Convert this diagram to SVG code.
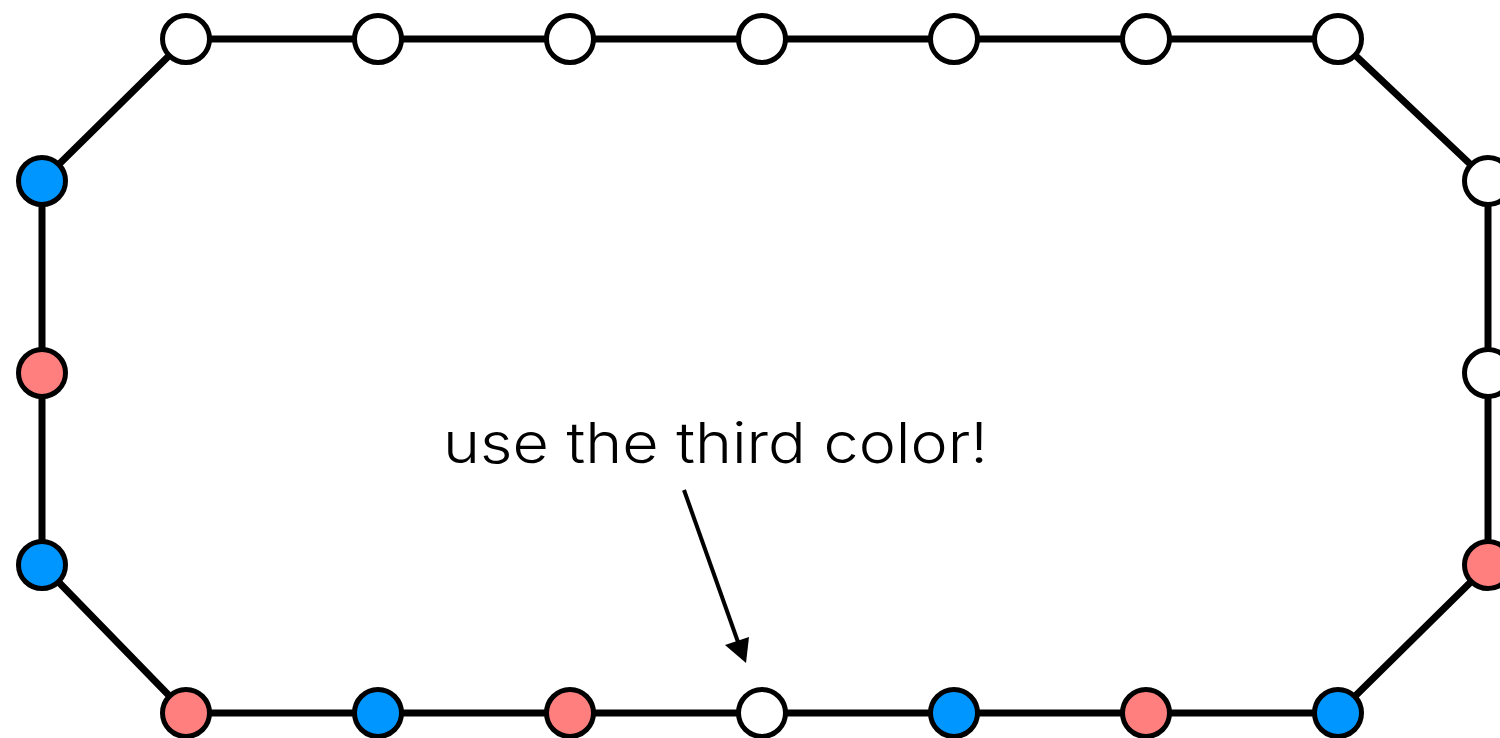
<svg xmlns="http://www.w3.org/2000/svg" width="1500" height="738" viewBox="0 0 1500 738">
<style>
.edge{fill:none;stroke:#000;stroke-width:7;stroke-linejoin:miter}
.n{stroke:#000;stroke-width:5}
.w{fill:#fff}.b{fill:#0096ff}.r{fill:#ff7f7f}
.lbl{font-family:Inter,Lato,"Liberation Sans",sans-serif;font-size:56px;font-weight:350;fill:#000}
</style>
<rect width="1500" height="738" fill="#fff"/>
<g id="connectors">
<polygon class="edge" points="186,39 1338,39 1488,181 1488,565 1338,713 186,713 42,565 42,181"/>
<g id="arrow">
<line x1="684" y1="490" x2="738" y2="642" stroke="#000" stroke-width="4"/>
<polygon points="746,663 725,645 749,637" fill="#000"/>
</g>
</g>
<g id="t1"><circle class="n w" cx="186" cy="39" r="23.5"/></g>
<g id="t2"><circle class="n w" cx="378" cy="39" r="23.5"/></g>
<g id="t3"><circle class="n w" cx="570" cy="39" r="23.5"/></g>
<g id="t4"><circle class="n w" cx="762" cy="39" r="23.5"/></g>
<g id="t5"><circle class="n w" cx="954" cy="39" r="23.5"/></g>
<g id="t6"><circle class="n w" cx="1146" cy="39" r="23.5"/></g>
<g id="t7"><circle class="n w" cx="1338" cy="39" r="23.5"/></g>
<g id="r1"><circle class="n w" cx="1488" cy="181" r="23.5"/></g>
<g id="r2"><circle class="n w" cx="1488" cy="373" r="23.5"/></g>
<g id="r3"><circle class="n r" cx="1488" cy="565" r="23.5"/></g>
<g id="b1"><circle class="n r" cx="186" cy="713" r="23.5"/></g>
<g id="b2"><circle class="n b" cx="378" cy="713" r="23.5"/></g>
<g id="b3"><circle class="n r" cx="570" cy="713" r="23.5"/></g>
<g id="b4"><circle class="n w" cx="762" cy="713" r="23.5"/></g>
<g id="b5"><circle class="n b" cx="954" cy="713" r="23.5"/></g>
<g id="b6"><circle class="n r" cx="1146" cy="713" r="23.5"/></g>
<g id="b7"><circle class="n b" cx="1338" cy="713" r="23.5"/></g>
<g id="l1"><circle class="n b" cx="42" cy="181" r="23.5"/></g>
<g id="l2"><circle class="n r" cx="42" cy="373" r="23.5"/></g>
<g id="l3"><circle class="n b" cx="42" cy="565" r="23.5"/></g>
<g id="label"><text class="lbl" x="443" y="463" textLength="545" lengthAdjust="spacingAndGlyphs">use the third color!</text></g>
</svg>
